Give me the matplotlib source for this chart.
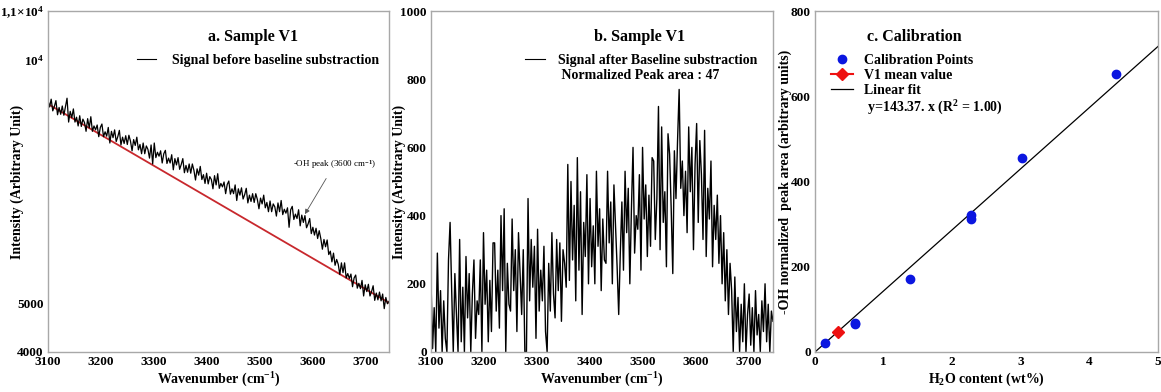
import matplotlib
matplotlib.use("Agg")
import matplotlib.pyplot as plt
import numpy as np
from matplotlib.lines import Line2D

# ---- data ----
# panel a: raw spectrum (step 3 cm-1) and linear baseline
wn_a = np.arange(3100, 3746, 3)
signal_raw = [
    9170, 9030, 9190, 8950, 9040, 9160, 8870, 9020, 8880, 9050,
    8860, 9040, 9210, 8720, 8940, 8810, 8990, 8720, 8820, 8640,
    8850, 8630, 8780, 8710, 8530, 8790, 8600, 8830, 8530, 8640,
    8560, 8660, 8420, 8610, 8680, 8420, 8520, 8430, 8610, 8290,
    8530, 8400, 8560, 8320, 8420, 8550, 8250, 8410, 8280, 8440,
    8260, 8450, 8330, 8130, 8360, 8240, 8410, 8150, 8260, 8070,
    8290, 8070, 8230, 8160, 7980, 8250, 7860, 8290, 7990, 8100,
    8020, 8130, 7880, 8070, 8140, 7870, 7980, 7880, 8050, 7740,
    7970, 7840, 7990, 7750, 7850, 7970, 7680, 7830, 7690, 7860,
    7670, 7860, 7730, 7530, 7760, 7630, 7810, 7540, 7640, 7460,
    7670, 7450, 7600, 7540, 7350, 7620, 7430, 7660, 7360, 7460,
    7390, 7490, 7250, 7440, 7510, 7240, 7350, 7250, 7430, 7110,
    7350, 7220, 7370, 7140, 7230, 7360, 7060, 7220, 7090, 7250,
    7070, 7250, 7130, 6940, 7160, 7040, 7220, 6960, 7070, 6880,
    7100, 6880, 7040, 6980, 6790, 7060, 6880, 7110, 6820, 6930,
    6850, 6960, 6560, 6920, 6990, 6720, 6830, 6740, 6920, 6590,
    6810, 6660, 6800, 6550, 6630, 6740, 6430, 6560, 6400, 6540,
    6330, 6490, 6330, 6110, 6310, 6160, 6300, 6000, 6070, 5850,
    6030, 5780, 5900, 5800, 5590, 5830, 5630, 5830, 5520, 5610,
    5510, 5600, 5340, 5520, 5580, 5310, 5410, 5300, 5470, 5150,
    5380, 5240, 5390, 5150, 5240, 5360, 5060, 5210, 5070, 5230,
    5050, 5190, 4890, 5120, 4990, 5040,
]
baseline_x = [3100, 3745]
baseline_y = [9090, 5010]

# panel b: baseline-subtracted spectrum (step 3 cm-1)
wn_b = np.arange(3100, 3746, 3)
signal_corr = [
    210, 10, 130, 0, 290, 70, 180, 0, 150, 40,
    0, 270, 380, 180, 0, 230, 110, 0, 330, 30,
    190, 0, 280, 100, 230, 0, 170, 270, 40, 150,
    110, 270, 0, 350, 140, 240, 30, 210, 60, 320,
    320, 120, 240, 70, 400, 180, 420, 0, 260, 140,
    120, 390, 180, 300, 60, 350, 230, 110, 300, 0,
    0, 450, 150, 330, 190, 310, 40, 360, 120, 240,
    150, 310, 60, 0, 260, 120, 350, 170, 100, 330,
    180, 320, 90, 300, 260, 190, 550, 210, 500, 270,
    430, 150, 570, 240, 470, 110, 380, 280, 520, 200,
    450, 250, 370, 200, 530, 310, 420, 180, 390, 270,
    260, 530, 320, 440, 200, 490, 370, 250, 110, 290,
    440, 240, 530, 350, 480, 200, 420, 600, 290, 400,
    360, 520, 240, 600, 390, 490, 280, 460, 310, 570,
    560, 330, 450, 720, 300, 660, 380, 470, 250, 640,
    580, 420, 230, 590, 450, 620, 770, 480, 560, 400,
    530, 350, 660, 470, 600, 300, 550, 670, 380, 620,
    520, 330, 650, 280, 480, 390, 560, 250, 430, 330,
    460, 260, 400, 200, 350, 150, 300, 110, 260, 180,
    0, 220, 60, 160, 0, 140, 30, 200, 0, 110,
    170, 20, 130, 0, 180, 50, 110, 0, 150, 60,
    200, 30, 140, 0, 120, 90,
]

# panel c: calibration
cal_h2o = [0.15, 0.58, 0.59, 1.38, 2.27, 2.27, 3.02, 4.39]
cal_area = [21, 66, 69, 171, 311, 321, 455, 653]
v1_h2o = [0.33]
v1_area = [47]
fit_slope = 143.37
fit_x = [0, 5]

plt.rcParams["font.family"] = ["Liberation Serif", "DejaVu Serif"]
plt.rcParams["font.weight"] = "bold"
plt.rcParams["axes.labelweight"] = "bold"
plt.rcParams["mathtext.fontset"] = "custom"
plt.rcParams["mathtext.rm"] = "Liberation Serif:bold"
plt.rcParams["mathtext.it"] = "Liberation Serif:italic:bold"
plt.rcParams["mathtext.bf"] = "Liberation Serif:bold"
plt.rcParams["font.size"] = 10

W, H = 1161, 392
fig = plt.figure(figsize=(W / 100, H / 100), dpi=100)


def px_axes(x0, x1, y0, y1):
    return fig.add_axes([x0 / W, 1 - y1 / H, (x1 - x0) / W, (y1 - y0) / H])


def style(ax):
    for s in ax.spines.values():
        s.set_color("#a8a8a8")
        s.set_linewidth(1.0)
    ax.tick_params(length=0, labelsize=9.5, pad=3)
    for lab in ax.get_xticklabels() + ax.get_yticklabels():
        lab.set_fontweight("bold")


# ---- a ----
ax1 = px_axes(48, 389, 11, 352)
ax1.plot(wn_a, signal_raw, color="black", lw=0.9)
ax1.plot(baseline_x, baseline_y, color="#c8282d", lw=1.3, zorder=1)
ax1.set_xlim(3100, 3745)
ax1.set_ylim(4000, 11000)
ax1.set_xticks(range(3100, 3701, 100))
ax1.set_yticks([4000, 5000, 10000, 11000])
ax1.set_yticklabels(["4000", "5000", "10$^4$", "1,1×10$^4$"])
ax1.set_xlabel("Wavenumber (cm$^{-1}$)", fontsize=10, labelpad=2)
ax1.set_ylabel("Intensity (Arbitrary Unit)", fontsize=10)
ax1.yaxis.set_label_coords(-0.07, 0.5)
ax1.text(0.6, 0.925, "a. Sample V1", transform=ax1.transAxes, ha="center",
         va="center", fontsize=11.5)
ax1.legend(handles=[Line2D([], [], color="black", lw=0.8)],
           labels=["Signal before baseline substraction"], loc="upper left",
           bbox_to_anchor=(0.24, 0.895), frameon=False, borderpad=0,
           handlelength=1.4, handletextpad=1.1, fontsize=10)
ax1.annotate("-OH peak (3600 cm$^{-1}$)", xy=(3586, 6830), xytext=(3642, 7850),
             ha="center", va="center", fontsize=6.5, fontweight="normal",
             arrowprops=dict(arrowstyle="-|>", color="#555555", lw=0.6,
                             mutation_scale=7, shrinkA=4, shrinkB=0))
style(ax1)

# ---- b ----
ax2 = px_axes(431, 773, 11, 352)
ax2.plot(wn_b, signal_corr, color="black", lw=1.0)
ax2.set_xlim(3100, 3745)
ax2.set_ylim(0, 1000)
ax2.set_xticks(range(3100, 3701, 100))
ax2.set_yticks(range(0, 1001, 200))
ax2.set_xlabel("Wavenumber (cm$^{-1}$)", fontsize=10, labelpad=2)
ax2.set_ylabel("Intensity (Arbitrary Unit)", fontsize=10)
ax2.yaxis.set_label_coords(-0.073, 0.5)
ax2.text(0.61, 0.925, "b. Sample V1", transform=ax2.transAxes, ha="center",
         va="center", fontsize=11.5)
ax2.legend(handles=[Line2D([], [], color="black", lw=0.8),
                    Line2D([], [], color="none")],
           labels=["Signal after Baseline substraction",
                   " Normalized Peak area : 47"],
           loc="upper left", bbox_to_anchor=(0.255, 0.895), frameon=False,
           borderpad=0, handlelength=1.4, handletextpad=1.0, labelspacing=0.15,
           fontsize=10)
style(ax2)

# ---- c ----
ax3 = px_axes(815, 1158, 11, 352)
fx = np.array(fit_x, dtype=float)
ax3.plot(fx, fit_slope * fx, color="black", lw=0.9, label="Linear fit")
ax3.plot(cal_h2o, cal_area, "o", color="#0b16e0", ms=6, label="Calibration Points")
ax3.plot(v1_h2o, v1_area, marker="D", color="#ee1111", ms=6, ls="-",
         label="V1 mean value")
ax3.set_xlim(0, 5)
ax3.set_ylim(0, 800)
ax3.set_xticks(range(0, 6))
ax3.set_yticks(range(0, 801, 200))
ax3.set_xlabel("H$_2$O content (wt%)", fontsize=10, labelpad=2)
ax3.set_ylabel("-OH normalized  peak area (arbitrary units)", fontsize=10)
ax3.yaxis.set_label_coords(-0.067, 0.5)
ax3.text(0.29, 0.925, "c. Calibration", transform=ax3.transAxes, ha="center",
         va="center", fontsize=11.5)
h, l = ax3.get_legend_handles_labels()
order = [1, 2, 0]
handles = [h[i] for i in order] + [Line2D([], [], color="none")]
labels = [l[i] for i in order] + [" y=143.37. x (R$^2$ = 1.00)"]
ax3.legend(handles=handles, labels=labels, loc="upper left",
           bbox_to_anchor=(0.025, 0.895), frameon=False, borderpad=0,
           handlelength=1.6, handletextpad=0.8, labelspacing=0.15,
           fontsize=10, numpoints=1)
style(ax3)

fig.savefig("out.png", dpi=100)
